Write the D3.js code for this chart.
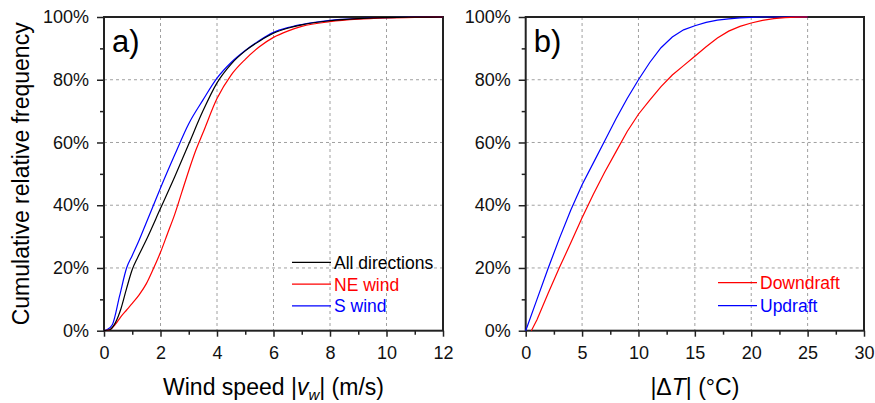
<!DOCTYPE html>
<html>
<head>
<meta charset="utf-8">
<script src="https://cdn.jsdelivr.net/npm/d3@7"></script>
<style>
  body { margin: 0; background: #fff; }
  svg { display: block; font-family: 'Liberation Sans', Arial, sans-serif; }
</style>
</head>
<body>
<svg width="875" height="403"></svg>
<script>
// Data: [x, cumulative %]
const allDirections = [[0,0],[0.2,0.3],[0.4,2.5],[0.6,7],[0.8,13.5],[1.0,19.5],[1.2,23.5],[1.5,29],[2.0,39],[2.5,49],[3.0,59.5],[3.5,70],[4.0,79],[4.5,85],[5.0,89.2],[5.5,92.3],[6.0,94.8],[6.5,96.4],[7.0,97.5],[8.0,98.8],[9.0,99.5],[10,99.8],[11,99.95],[12,100]];
const neWind = [[0,0],[0.2,0.3],[0.4,2],[0.6,4.5],[0.8,6.6],[1.0,8.7],[1.25,11.5],[1.5,15],[1.75,19.8],[2.0,25],[2.25,31],[2.5,37],[2.75,44],[3.0,51],[3.25,57.5],[3.5,63],[4.0,74],[4.5,81.5],[5.0,86.5],[5.5,90.5],[6.0,93.5],[6.5,95.5],[7.0,97],[8.0,98.5],[9.0,99.3],[10,99.7],[11,99.9],[12,100]];
const sWind = [[0,0],[0.1,0.3],[0.3,2],[0.55,11],[0.8,20],[1.0,24],[1.25,29],[1.5,34.5],[1.75,40],[2.0,45.5],[2.5,56],[3.0,66],[3.5,73.5],[4.0,80.5],[4.5,85.5],[5.0,89.3],[5.5,92.5],[6.0,95.1],[6.5,96.6],[7.0,97.6],[8.0,98.9],[9,99.5],[10,99.8],[11,99.95],[12,100]];
const downdraft = [[0.5,0],[1,3.5],[2,12],[3,20.2],[4,28],[5,36],[6,43.5],[7,50.5],[8,57],[9,63.5],[10,69],[11,73.5],[12,77.8],[13,81.5],[14,84.5],[15,87.5],[16,90.5],[17,93.3],[18,95.5],[19,97],[20,98.1],[21,98.9],[22,99.5],[23,99.8],[24,99.95],[25,100]];
const updraft = [[0,0],[1,10],[2,20],[3,29.5],[4,38.5],[5,46.5],[6,53.5],[7,60.5],[8,67.5],[9,74],[10,80],[11,85.5],[12,90.2],[13,93.6],[14,95.9],[15,97.2],[16,98.3],[17,99],[18,99.4],[19,99.7],[20,99.85],[21,100],[25,100]];

const yMajor = [0, 20, 40, 60, 80, 100];
const yMinor = [10, 30, 50, 70, 90];
const xMajorA = [0, 2, 4, 6, 8, 10, 12];
const xMinorA = [1, 3, 5, 7, 9, 11];
const xMajorB = [0, 5, 10, 15, 20, 25, 30];
const xMinorB = [2.5, 7.5, 12.5, 17.5, 22.5, 27.5];

const svg = d3.select('svg');
const plotTop = 17, plotBottom = 330.7;
const y = d3.scaleLinear().domain([0, 100]).range([plotBottom, plotTop]);

const panels = [
  { id: 'a', label: 'a)', x0: 104, x1: 443, domain: [0, 12], major: xMajorA, minor: xMinorA,
    curve: d3.curveMonotoneX,
    series: [
      { name: 'All directions', data: allDirections, color: '#000000' },
      { name: 'NE wind', data: neWind, color: '#ff0000' },
      { name: 'S wind', data: sWind, color: '#0000ff' }
    ],
    legend: { x: 292, y: 262.3, gap: 21.8 } },
  { id: 'b', label: 'b)', x0: 525.7, x1: 864, domain: [0, 30], major: xMajorB, minor: xMinorB,
    curve: d3.curveLinear,
    series: [
      { name: 'Downdraft', data: downdraft, color: '#ff0000' },
      { name: 'Updraft', data: updraft, color: '#0000ff' }
    ],
    legend: { x: 718, y: 282.7, gap: 23 } }
];

panels.forEach(p => {
  const x = d3.scaleLinear().domain(p.domain).range([p.x0, p.x1]);
  const g = svg.append('g');

  // grid
  g.selectAll('.gx').data(p.major.slice(1, -1)).enter().append('line')
    .attr('x1', d => x(d)).attr('x2', d => x(d))
    .attr('y1', plotTop).attr('y2', plotBottom)
    .attr('stroke', '#a0a0a0').attr('stroke-width', 1).attr('stroke-dasharray', '3,3');
  g.selectAll('.gy').data(yMajor.slice(1, -1)).enter().append('line')
    .attr('x1', p.x0).attr('x2', p.x1)
    .attr('y1', d => y(d)).attr('y2', d => y(d))
    .attr('stroke', '#a0a0a0').attr('stroke-width', 1).attr('stroke-dasharray', '3,3');

  // axes
  g.append('g').attr('transform', `translate(${p.x0},0)`)
    .call(d3.axisLeft(y).tickValues(yMajor).tickSize(7).tickPadding(8).tickFormat(d => d + '%'));
  g.append('g').attr('transform', `translate(${p.x0},0)`)
    .call(d3.axisLeft(y).tickValues(yMinor).tickSize(4).tickFormat(''));
  g.append('g').attr('transform', `translate(0,${plotBottom})`)
    .call(d3.axisBottom(x).tickValues(p.major).tickSize(6).tickPadding(10).tickFormat(d3.format('d')));
  g.append('g').attr('transform', `translate(0,${plotBottom})`)
    .call(d3.axisBottom(x).tickValues(p.minor).tickSize(4).tickFormat(''));
  g.selectAll('.domain').remove();
  g.selectAll('.tick line').attr('stroke', '#222').attr('stroke-width', 1.5);
  g.selectAll('.tick text').attr('font-size', '18px').attr('fill', '#111')
    .attr('font-family', "'Liberation Sans', Arial, sans-serif");

  // frame
  g.append('rect')
    .attr('x', p.x0).attr('y', plotTop)
    .attr('width', p.x1 - p.x0).attr('height', plotBottom - plotTop)
    .attr('fill', 'none').attr('stroke', '#222').attr('stroke-width', 2);

  // curves
  const line = d3.line().x(d => x(d[0])).y(d => y(d[1])).curve(p.curve);
  p.series.slice().reverse().forEach(s => {
    g.append('path').datum(s.data)
      .attr('d', line)
      .attr('fill', 'none')
      .attr('stroke', s.color)
      .attr('stroke-width', 1.2);
  });

  // panel label
  g.append('text')
    .attr('x', p.x0 + 8).attr('y', 52)
    .attr('font-size', '31px').attr('fill', '#000')
    .text(p.label);

  // legend
  p.series.forEach((s, i) => {
    const ly = p.legend.y + i * p.legend.gap;
    g.append('line')
      .attr('x1', p.legend.x).attr('x2', p.legend.x + 39)
      .attr('y1', ly).attr('y2', ly)
      .attr('stroke', s.color).attr('stroke-width', 1.2);
    g.append('text')
      .attr('x', p.legend.x + 42).attr('y', ly + 6.5)
      .attr('font-size', '17.5px').attr('fill', s.color)
      .text(s.name);
  });
});

// y axis title
svg.append('text')
  .attr('transform', `translate(29,${(plotTop + plotBottom) / 2}) rotate(-90)`)
  .attr('text-anchor', 'middle')
  .attr('font-size', '23px').attr('fill', '#000')
  .text('Cumulative relative frequency');

// x axis titles
const xtA = svg.append('text')
  .attr('x', (104 + 443) / 2).attr('y', 395)
  .attr('text-anchor', 'middle')
  .attr('font-size', '23px').attr('fill', '#000');
xtA.append('tspan').text('Wind speed |');
xtA.append('tspan').attr('font-style', 'italic').text('v');
xtA.append('tspan').attr('font-style', 'italic').attr('font-size', '15px').attr('dy', 5).text('w');
xtA.append('tspan').attr('dy', -5).text('| (m/s)');

const xtB = svg.append('text')
  .attr('x', (525.7 + 864) / 2).attr('y', 395)
  .attr('text-anchor', 'middle')
  .attr('font-size', '23px').attr('fill', '#000');
xtB.append('tspan').text('|Δ');
xtB.append('tspan').attr('font-style', 'italic').text('T');
xtB.append('tspan').text('| (°C)');
</script>
</body>
</html>
